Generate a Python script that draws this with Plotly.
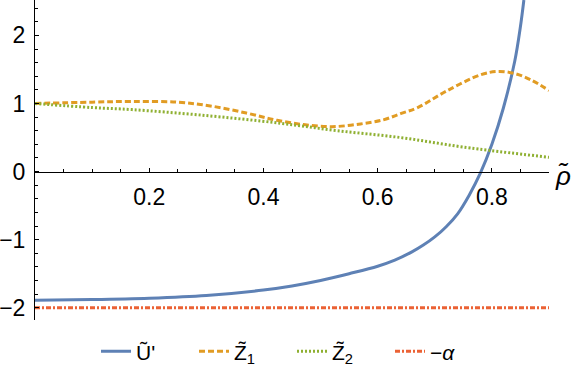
import plotly.graph_objects as go

# U~' (solid blue)
u_x = [0, 0.1, 0.2, 0.3, 0.4, 0.45, 0.5, 0.55, 0.6, 0.63, 0.66, 0.68, 0.7, 0.72, 0.74, 0.76, 0.78, 0.8, 0.82, 0.84, 0.85, 0.856]
u_y = [-1.89, -1.88, -1.86, -1.82, -1.74, -1.68, -1.60, -1.50, -1.39, -1.30, -1.18, -1.08, -0.96, -0.81, -0.62, -0.35, -0.02, 0.40, 0.93, 1.62, 2.13, 2.52]

# Z~1 (dashed orange)
z1_x = [0, 0.1, 0.17, 0.25, 0.31, 0.37, 0.42, 0.47, 0.52, 0.57, 0.61, 0.64, 0.67, 0.72, 0.78, 0.81, 0.84, 0.87, 0.9]
z1_y = [1.0, 1.02, 1.03, 1.02, 0.96, 0.86, 0.76, 0.69, 0.66, 0.70, 0.76, 0.85, 0.94, 1.18, 1.42, 1.47, 1.44, 1.34, 1.19]

# Z~2 (dotted green)
z2_x = [0, 0.1, 0.17, 0.29, 0.43, 0.53, 0.64, 0.75, 0.9]
z2_y = [1.0, 0.94, 0.91, 0.83, 0.71, 0.60, 0.50, 0.36, 0.21]

# -alpha (dash-dot red)
a_x = [0, 0.9]
a_y = [-2.0, -2.0]

x_ticks = [0.2, 0.4, 0.6, 0.8]
y_ticks = [-2, -1, 0, 1, 2]
x_range = [0, 0.9]
y_range = [-2.18, 2.52]

FONT = "Liberation Sans, Arial, sans-serif"

fig = go.Figure()
fig.add_trace(go.Scatter(x=u_x, y=u_y, mode="lines", name="Ũ'", line_shape="spline",
                         line=dict(color="#5E81B5", width=3)))
fig.add_trace(go.Scatter(x=z1_x, y=z1_y, mode="lines", name="Z̃<sub>1</sub>", line_shape="spline",
                         line=dict(color="#E19C24", width=3, dash="6px,3px")))
fig.add_trace(go.Scatter(x=z2_x, y=z2_y, mode="lines", name="Z̃<sub>2</sub>", line_shape="spline",
                         line=dict(color="#8FB032", width=3, dash="2px,2px")))
fig.add_trace(go.Scatter(x=a_x, y=a_y, mode="lines", name="−<i>α</i>",
                         line=dict(color="#EB6235", width=3, dash="5px,2px,2px,2px")))

# put the x axis line at y = 0
x_pos = (0 - y_range[0]) / (y_range[1] - y_range[0])

fig.update_layout(
    width=576, height=374,
    margin=dict(l=35, r=27, t=0, b=54),
    plot_bgcolor="white", paper_bgcolor="white",
    font=dict(family=FONT, size=23, color="black"),
    showlegend=True,
    legend=dict(orientation="h", x=0.5, xanchor="center", y=-0.035, yanchor="top",
                font=dict(size=21), itemwidth=30, entrywidth=53, entrywidthmode="pixels"),
    xaxis=dict(range=x_range, tickvals=x_ticks, ticktext=[str(v) for v in x_ticks],
               showgrid=False, zeroline=False, showline=True, linecolor="black", linewidth=1,
               ticks="inside", ticklen=4, tickcolor="black", anchor="free", position=x_pos,
               ticklabelstandoff=5, automargin=False,
               minor=dict(dtick=0.05, tick0=0, ticks="inside", ticklen=2.5, tickcolor="black")),
    yaxis=dict(range=y_range, tickvals=y_ticks, showgrid=False, zeroline=False,
               showline=True, linecolor="black", linewidth=1, ticks="inside", ticklen=4,
               tickcolor="black", ticklabelstandoff=4, automargin=False,
               minor=dict(dtick=0.2, tick0=0, ticks="inside", ticklen=2.5, tickcolor="black")),
)

fig.add_annotation(x=0.9, y=0, xref="x", yref="y", text="<i>ρ̃</i>", showarrow=False,
                   xanchor="left", yanchor="middle", xshift=4, yshift=-4, font=dict(size=26))

# browser default body margin would shift the whole figure by 8px
fig.write_html("out.html", config={"displayModeBar": False},
               post_script="document.body.style.margin='0';")
